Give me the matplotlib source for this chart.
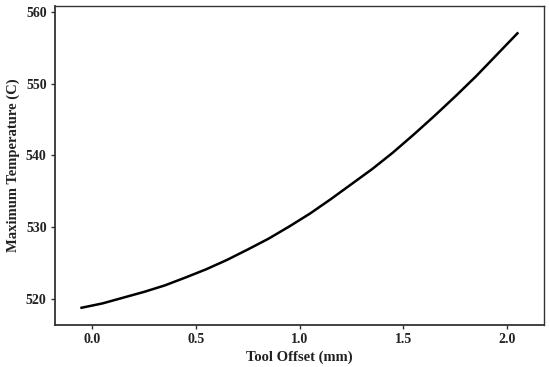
import numpy as np
import matplotlib.pyplot as plt

# valores
offset_mm = np.array([-0.05, 0.05, 0.15, 0.25, 0.35, 0.45, 0.55, 0.65, 0.75, 0.85, 0.95,
                      1.05, 1.15, 1.25, 1.35, 1.45, 1.55, 1.65, 1.75, 1.85, 1.95, 2.05])
max_temp = np.array([518.8, 519.4, 520.2, 521.0, 521.9, 523.0, 524.15, 525.45, 526.9, 528.4, 530.1,
                     531.9, 533.9, 536.0, 538.1, 540.4, 542.9, 545.5, 548.2, 551.0, 554.0, 557.0])

x_ticks = [0.0, 0.5, 1.0, 1.5, 2.0]
y_ticks = [520, 530, 540, 550, 560]

plt.rcParams['font.family'] = ['Liberation Serif', 'DejaVu Serif']

fig = plt.figure(figsize=(5.5, 3.67), dpi=100)
ax = fig.add_axes([55 / 550, 1 - 325 / 367, (544 - 55) / 550, (325 - 6) / 367])

ax.plot(offset_mm, max_temp, color='black', linewidth=1.8)

ax.set_xlim(-0.178, 2.178)
ax.set_ylim(516.4, 560.8)
ax.set_xticks(x_ticks)
ax.set_xticklabels([f'{v:.1f}' for v in x_ticks])
ax.set_yticks(y_ticks)

for s in ax.spines.values():
    s.set_color('#333333')
    s.set_linewidth(1.0)
ax.spines['left'].set_linewidth(1.3)
ax.spines['bottom'].set_linewidth(1.3)

ax.tick_params(direction='out', length=3, width=1, colors='#333333',
               labelsize=10, labelcolor='#222222', pad=3)
for lab in ax.get_xticklabels() + ax.get_yticklabels():
    lab.set_fontweight('bold')

ax.set_xlabel('Tool Offset (mm)', fontsize=10.5, fontweight='bold', color='#222222', labelpad=3)
ax.set_ylabel('Maximum Temperature (C)', fontsize=10.5, fontweight='bold', color='#222222', labelpad=4)

fig.savefig('out.png', dpi=100)
